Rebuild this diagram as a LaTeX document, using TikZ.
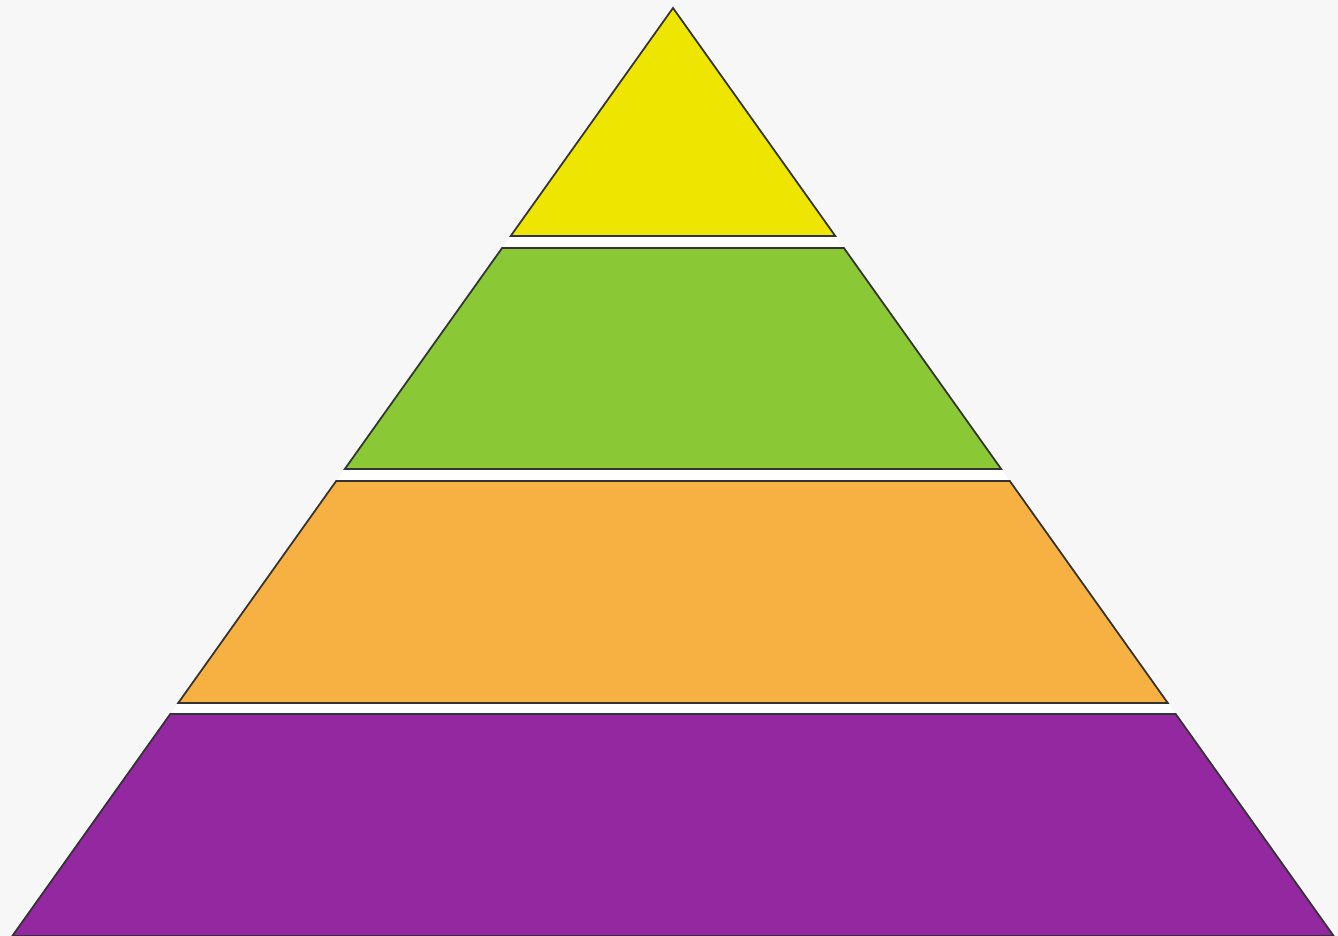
\documentclass[tikz,border=0pt]{standalone}
\usepackage{xcolor}
\usepackage{tikz}

\definecolor{pagebg}{HTML}{F7F7F7}
\definecolor{topyellow}{HTML}{EEE600}
\definecolor{midgreen}{HTML}{8AC935}
\definecolor{loworange}{HTML}{F7B142}
\definecolor{basepurple}{HTML}{9328A0}

\begin{document}
\begin{tikzpicture}[
  x=0.01cm, y=-0.01cm,
  layer/.style={draw=black!80, line width=0.5pt, line join=miter}
]
  % page and bounding box
  \fill[pagebg] (0,0) rectangle (1338,936);
  \useasboundingbox (0,0) rectangle (1338,936);
  % white body of the pyramid, seen in the gaps
  \fill[white] (673,8) -- (1333.7,936) -- (12.3,936) -- cycle;

  % layers, top to bottom
  \filldraw[layer, fill=topyellow] (673,8) -- (835.3,236) -- (510.7,236) -- cycle;
  \filldraw[layer, fill=midgreen] (502.1,248) -- (843.9,248) -- (1001.2,469) -- (344.8,469) -- cycle;
  \filldraw[layer, fill=loworange] (336.2,481) -- (1009.8,481) -- (1167.8,703) -- (178.2,703) -- cycle;
  \filldraw[layer, fill=basepurple] (170.3,714) -- (1175.7,714) -- (1333.7,936) -- (12.3,936) -- cycle;
\end{tikzpicture}
\end{document}
